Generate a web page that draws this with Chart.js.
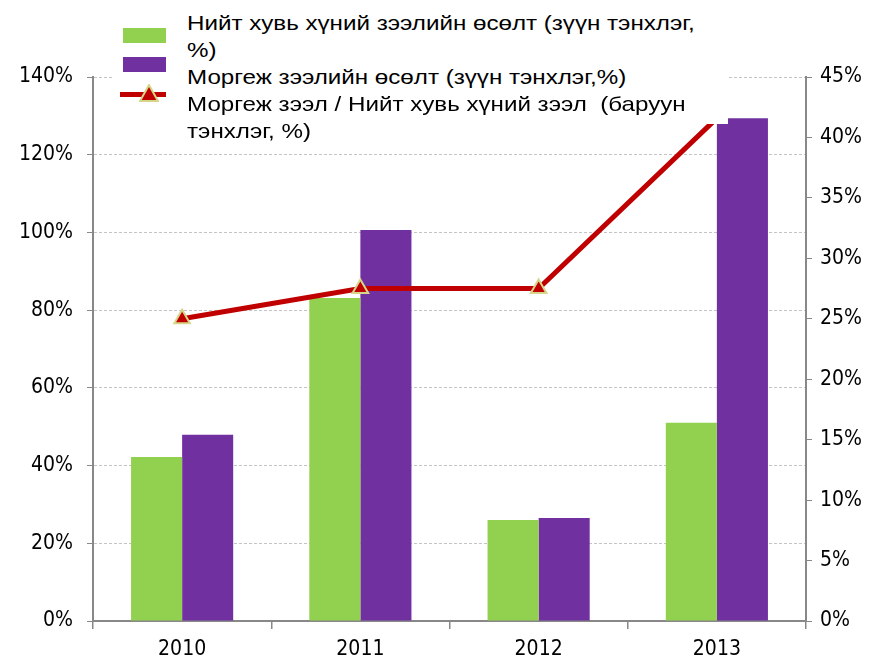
<!DOCTYPE html>
<html>
<head>
<meta charset="utf-8">
<script src="https://cdn.jsdelivr.net/npm/chart.js@4"></script>
<style>
  html, body { margin: 0; padding: 0; background: #fff; }
  #wrap { position: relative; width: 879px; height: 664px; }
  #legend { position: absolute; left: 112px; top: 0; width: 616px; height: 124px; background: #fff;
            font-family: "Liberation Sans", Arial, sans-serif; font-size: 21px; color: #000; }
  .sw { position: absolute; }
  .txt { position: absolute; left: 75px; line-height: 27px; white-space: nowrap;
         transform: scaleX(1.15); transform-origin: 0 0; }
</style>
</head>
<body>
<div id="wrap">
  <canvas id="c" width="879" height="664"></canvas>
  <div id="legend">
    <div class="sw" style="left:11px;top:28px;width:43px;height:15px;background:#92D050"></div>
    <div class="sw" style="left:11px;top:57px;width:43px;height:15px;background:#7030A0"></div>
    <div class="sw" style="left:8px;top:92px;width:46px;height:5px;background:#C00000"></div>
    <svg class="sw" style="left:27px;top:84px" width="20" height="18"><polygon points="10,1 19,17 1,17" fill="#C00000" stroke="#D6D68A" stroke-width="2"/></svg>
    <div class="txt" style="top:9px">Нийт хувь хүний зээлийн өсөлт (зүүн тэнхлэг,<br>%)</div>
    <div class="txt" style="top:63px">Моргеж зээлийн өсөлт (зүүн тэнхлэг,%)</div>
    <div class="txt" style="top:90px">Моргеж зээл / Нийт хувь хүний зээл&nbsp; (баруун<br>тэнхлэг, %)</div>
  </div>
</div>
<script>
const categories = ['2010', '2011', '2012', '2013'];
const totalLoanGrowth = [42.2, 83.1, 26.0, 51.0];
const mortgageGrowth = [47.9, 100.6, 26.5, 129.4];
const mortgageShare = [25.0, 27.5, 27.5, 41.6];
const leftTicks = [0, 20, 40, 60, 80, 100, 120, 140];
const rightTicks = [0, 5, 10, 15, 20, 25, 30, 35, 40, 45];

const tickFont = { family: '"DejaVu Sans Condensed", "DejaVu Sans", sans-serif', size: 21 };

new Chart(document.getElementById('c'), {
  data: {
    labels: categories,
    datasets: [
      { type: 'line', label: 'Моргеж зээл / Нийт хувь хүний зээл (баруун тэнхлэг, %)', data: mortgageShare, yAxisID: 'y1',
        borderColor: '#C00000', borderWidth: 5, backgroundColor: '#C00000',
        pointStyle: 'triangle', pointRadius: 9, pointBorderColor: '#D6D68A', pointBorderWidth: 2,
        pointBackgroundColor: '#C00000', tension: 0, order: 0 },
      { type: 'bar', label: 'Нийт хувь хүний зээлийн өсөлт (зүүн тэнхлэг, %)', data: totalLoanGrowth, yAxisID: 'y',
        backgroundColor: '#92D050', categoryPercentage: 0.573, barPercentage: 1, order: 1 },
      { type: 'bar', label: 'Моргеж зээлийн өсөлт (зүүн тэнхлэг,%)', data: mortgageGrowth, yAxisID: 'y',
        backgroundColor: '#7030A0', categoryPercentage: 0.573, barPercentage: 1, order: 1 }
    ]
  },
  options: {
    responsive: false,
    animation: false,
    layout: { padding: { top: 77, bottom: 0, left: 0, right: 0 } },
    plugins: { legend: { display: false }, tooltip: { enabled: false } },
    scales: {
      x: {
        offset: true,
        grid: { display: true, drawOnChartArea: false, offset: true, color: '#888', tickLength: 8, lineWidth: 1.5 },
        border: { color: '#888', width: 2 },
        ticks: { color: '#000', font: tickFont, padding: 8 },
        afterFit: s => { s.height = 43; }
      },
      y: {
        position: 'left', min: 0, max: 140,
        afterBuildTicks: s => { s.ticks = leftTicks.map(v => ({ value: v })); },
        grid: { color: '#c4c4c4', tickColor: '#888', tickLength: 6, tickBorderDash: [], lineWidth: 1 },
        border: { color: '#888', width: 2, dash: [3, 2] },
        ticks: { color: '#000', font: tickFont, padding: 14, callback: v => v + '%' },
        afterFit: s => { s.width = 93; }
      },
      y1: {
        position: 'right', min: 0, max: 45,
        afterBuildTicks: s => { s.ticks = rightTicks.map(v => ({ value: v })); },
        grid: { drawOnChartArea: false, color: '#888', tickLength: 6 },
        border: { color: '#888', width: 2 },
        ticks: { color: '#000', font: tickFont, padding: 8, callback: v => v + '%' },
        afterFit: s => { s.width = 73; }
      }
    }
  }
});
</script>
</body>
</html>
